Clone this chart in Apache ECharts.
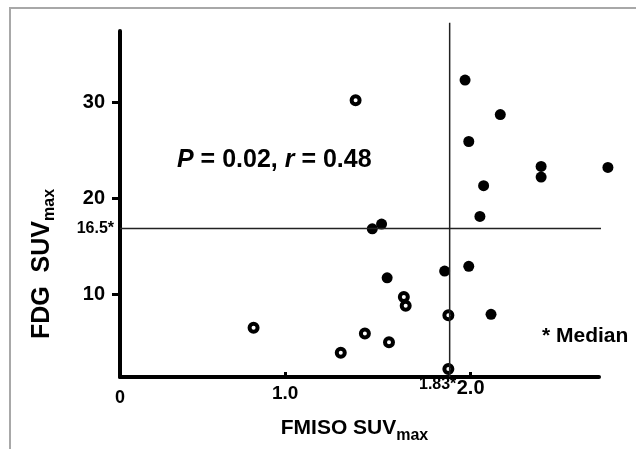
<!DOCTYPE html>
<html>
<head>
<meta charset="utf-8">
<script src="https://cdn.jsdelivr.net/npm/echarts@6/dist/echarts.min.js"></script>
<style>
  html, body { margin: 0; padding: 0; background: #fff; }
  #chart { width: 636px; height: 449px; }
</style>
</head>
<body>
<div id="chart"></div>
<script>
// open circles
const openX = [1.38, 0.83, 1.30, 1.43, 1.56, 1.64, 1.65, 1.88, 1.88]
const openY = [30.2, 6.5, 3.9, 5.9, 5.0, 9.7, 8.8, 7.8, 2.2]

// filled circles
const filledX = [1.97, 2.16, 1.99, 2.38, 2.38, 2.74, 2.07, 2.05, 1.52, 1.47, 1.55, 1.86, 1.99, 2.11]
const filledY = [32.3, 28.7, 25.9, 23.3, 22.2, 23.2, 21.3, 18.1, 17.3, 16.8, 11.7, 12.4, 12.9, 7.9]

// median lines (where they sit in the figure) and their labels
const medianX = 1.887, medianXLabel = '1.83*'
const medianY = 16.83, medianYLabel = '16.5*'

// axes
const xMin = 0.11, xMax = 2.692
const yMin = 1.37, yMax = 37.41
const xTickValues = [1, 2]
const xLabelValues = [xMin, 1, medianX, 2]
const xLabelTexts = ['0', '1.0', medianXLabel, '2.0']
const xLabelStyles = ['z', 'one', 'med', 'two']
const yTickValues = [10, 20, 30]
const yLabelValues = [10, medianY, 20, 30]
const yLabelTexts = ['10', medianYLabel, '20', '30']
const yLabelStyles = ['t', 'med', 't', 't']

// ends of the median lines
const vLineY = [yMin, 38.28]
const hLineX = [xMin, 2.766]

const FONT = "'Liberation Sans', Arial, Helvetica, sans-serif"

function pairs(xs, ys) {
  return xs.map((x, i) => [x, ys[i]])
}

function pick(values, v) {
  return values.findIndex(a => Math.abs(a - v) < 1e-6)
}

const myChart = echarts.init(document.getElementById('chart'))

let option = {
  animation: false,
  backgroundColor: '#fff',
  textStyle: { fontFamily: FONT },
  grid: { left: 120, right: 37, top: 31, bottom: 71 },
  title: [
    {
      text: '{i|P} = 0.02, {i|r} = 0.48',
      left: 177, top: 148, padding: 0,
      textStyle: {
        fontFamily: FONT, fontSize: 25, fontWeight: 'bold', color: '#000',
        rich: { i: { fontFamily: FONT, fontSize: 25, fontWeight: 'bold', fontStyle: 'italic', color: '#000' } }
      }
    },
    {
      text: '* Median',
      left: 542, top: 326, padding: 0,
      textStyle: { fontFamily: FONT, fontSize: 21, fontWeight: 'bold', color: '#000' }
    }
  ],
  graphic: [
    {
      type: 'rect', silent: true, z: -1,
      shape: { x: 10, y: 8, width: 700, height: 500 },
      style: { fill: 'none', stroke: '#a8a8a8', lineWidth: 2 }
    }
  ],
  xAxis: {
    type: 'value', min: xMin, max: xMax,
    name: '{a|FMISO SUV}{b|max}',
    nameLocation: 'middle', nameGap: 39,
    nameTextStyle: {
      padding: [0, 10, 0, 0],
      rich: {
        a: { fontFamily: FONT, fontSize: 21, fontWeight: 'bold', color: '#000', lineHeight: 24 },
        b: { fontFamily: FONT, fontSize: 16, fontWeight: 'bold', color: '#000', lineHeight: 16, padding: [16, 0, 0, 0] }
      }
    },
    axisLine: { show: true, onZero: false, lineStyle: { color: '#000', width: 4 } },
    axisTick: { show: true, inside: true, length: 5, customValues: xTickValues, lineStyle: { color: '#000', width: 3 } },
    splitLine: { show: false },
    axisLabel: {
      customValues: xLabelValues,
      margin: 0,
      formatter: function (v) {
        const i = pick(xLabelValues, v)
        return '{' + xLabelStyles[i] + '|' + xLabelTexts[i] + '}'
      },
      rich: {
        z: { fontFamily: FONT, fontSize: 18, fontWeight: 'bold', color: '#000', padding: [12, 0, 0, 0] },
        one: { fontFamily: FONT, fontSize: 19, fontWeight: 'bold', color: '#000', padding: [7, 0, 0, 0] },
        med: { fontFamily: FONT, fontSize: 16, fontWeight: 'bold', color: '#000', padding: [0, 24, 0, 0] },
        two: { fontFamily: FONT, fontSize: 20, fontWeight: 'bold', color: '#000', padding: [1, 0, 0, 0] }
      }
    }
  },
  yAxis: {
    type: 'value', min: yMin, max: yMax,
    name: '{a|FDG  SUV}{b|max}',
    nameLocation: 'middle', nameGap: 64, nameRotate: 90,
    nameTextStyle: {
      padding: [0, 120, 0, 0],
      rich: {
        a: { fontFamily: FONT, fontSize: 25, fontWeight: 'bold', color: '#000', lineHeight: 28 },
        b: { fontFamily: FONT, fontSize: 16, fontWeight: 'bold', color: '#000', lineHeight: 16, padding: [16, 0, 0, 0] }
      }
    },
    axisLine: { show: true, onZero: false, lineStyle: { color: '#000', width: 4 } },
    axisTick: { show: true, length: 8, customValues: yTickValues, lineStyle: { color: '#000', width: 3 } },
    splitLine: { show: false },
    axisLabel: {
      customValues: yLabelValues,
      margin: 6,
      formatter: function (v) {
        const i = pick(yLabelValues, v)
        return '{' + yLabelStyles[i] + '|' + yLabelTexts[i] + '}'
      },
      rich: {
        t: { fontFamily: FONT, fontSize: 20, fontWeight: 'bold', color: '#000', padding: [0, 9, 0, 0] },
        med: { fontFamily: FONT, fontSize: 16, fontWeight: 'bold', color: '#000' }
      }
    }
  },
  series: [
    {
      name: 'Median FMISO',
      type: 'line',
      clip: false,
      silent: true,
      symbol: 'none',
      lineStyle: { color: '#222', width: 1.5 },
      data: vLineY.map(y => [medianX, y])
    },
    {
      name: 'Median FDG',
      type: 'line',
      clip: false,
      silent: true,
      symbol: 'none',
      lineStyle: { color: '#222', width: 1.5 },
      data: hLineX.map(x => [x, medianY])
    },
    {
      name: 'Filled',
      type: 'scatter',
      clip: false,
      symbol: 'circle',
      symbolSize: 11,
      itemStyle: { color: '#000', opacity: 1 },
      data: pairs(filledX, filledY)
    },
    {
      name: 'Open',
      type: 'scatter',
      clip: false,
      symbol: 'circle',
      symbolSize: 8,
      itemStyle: { color: '#fff', borderColor: '#000', borderWidth: 4, opacity: 1 },
      data: pairs(openX, openY)
    }
  ]
}

myChart.setOption(option)
</script>
</body>
</html>
